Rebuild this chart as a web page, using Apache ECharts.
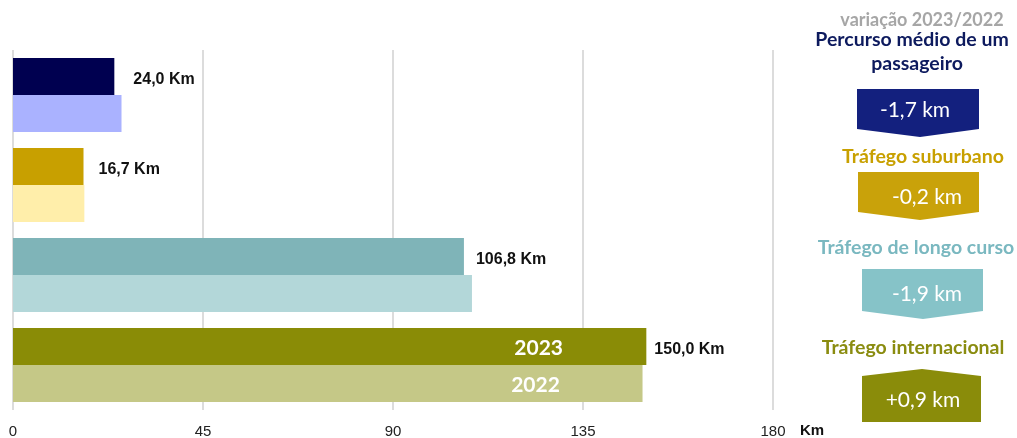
<!DOCTYPE html>
<html>
<head>
<meta charset="utf-8">
<script src="https://cdn.jsdelivr.net/npm/echarts@6/dist/echarts.min.js"></script>
<style>
html,body{margin:0;padding:0;background:#fff;}
#chart{width:1017px;height:438px;}
</style>
</head>
<body>
<div id="chart"></div>
<script>
const categories = ['Percurso médio de um passageiro', 'Tráfego suburbano', 'Tráfego de longo curso', 'Tráfego internacional'];
const values2023 = [24.0, 16.7, 106.8, 150.0];
const values2022 = [25.7, 16.9, 108.7, 149.1];
const colors2023 = ['#000050', '#c8a000', '#7fb4b8', '#8a8c06'];
const colors2022 = ['#aab2ff', '#ffeeaa', '#b3d7d9', '#c5c887'];
const xTicks = [0, 45, 90, 135, 180];
const years = ['2023', '2022'];
const panelTitle = 'variação 2023/2022';
const panelLabels = [['Percurso médio de um', 'passageiro'], ['Tráfego suburbano'], ['Tráfego de longo curso'], ['Tráfego internacional']];
const variations = ['-1,7 km', '-0,2 km', '-1,9 km', '+0,9 km'];
const titleColors = ['#0d1a5e', '#c8a000', '#7ab8c0', '#8a8c10'];
const boxColors = ['#13207e', '#c9a20a', '#86c3c8', '#8a8c0a'];
const labelDistances = [19, 15, 12, 8];

const fmt = v => v.toFixed(1).replace('.', ',') + ' Km';
const lastIdx = categories.length - 1;

const chart = echarts.init(document.getElementById('chart'), null, {renderer: 'canvas'});

const graphics = [];
graphics.push({type: 'text', x: 922, y: 20, style: {text: panelTitle, fill: '#a6a6a6', font: 'bold 18px Lato', align: 'center', verticalAlign: 'middle'}});
const titlePos = [[[912, 40], [917, 64]], [[923, 157]], [[916, 248]], [[913, 348]]];
panelLabels.forEach((lines, i) => {
  lines.forEach((t, j) => {
    graphics.push({type: 'text', x: titlePos[i][j][0], y: titlePos[i][j][1], style: {text: t, fill: titleColors[i], font: 'bold 19.5px Lato', align: 'center', verticalAlign: 'middle'}});
  });
});
const shapes = [
  [[857, 89], [979, 89], [979, 129], [920, 137], [857, 129]],
  [[858, 172], [979, 172], [979, 212], [920, 220], [858, 212]],
  [[862, 269], [983, 269], [983, 311], [923, 319], [862, 311]],
  [[862, 376], [922, 369], [981, 376], [981, 422], [862, 422]]
];
const varPos = [[915, 110], [927, 197], [927, 294], [923, 400]];
shapes.forEach((pts, i) => {
  graphics.push({type: 'polygon', shape: {points: pts}, style: {fill: boxColors[i]}});
  graphics.push({type: 'text', x: varPos[i][0], y: varPos[i][1], style: {text: variations[i], fill: '#ffffff', font: '21px Lato', align: 'center', verticalAlign: 'middle'}});
});

const option = {
  animation: false,
  backgroundColor: '#ffffff',
  grid: {left: 13, right: 244, top: 50, bottom: 28, containLabel: false, outerBoundsMode: 'none'},
  xAxis: {
    type: 'value', min: xTicks[0], max: xTicks[xTicks.length - 1], interval: 45,
    axisLine: {show: false}, axisTick: {show: false},
    axisLabel: {color: '#222', fontSize: 15, fontFamily: 'Liberation Sans, Arial', margin: 14},
    splitLine: {lineStyle: {color: '#dcdcdc', width: 2}},
    name: 'Km', nameLocation: 'end', nameGap: 27,
    nameTextStyle: {color: '#111', fontWeight: 'bold', fontSize: 15, fontFamily: 'Liberation Sans, Arial', lineHeight: 42, align: 'left', verticalAlign: 'top'}
  },
  yAxis: {
    type: 'category', data: categories, inverse: true,
    axisLine: {show: false}, axisTick: {show: false}, axisLabel: {show: false}, splitLine: {show: false}
  },
  graphic: graphics,
  series: [
    {
      name: years[0], type: 'bar', barGap: '0%', barCategoryGap: '18%',
      data: values2023.map((v, i) => ({value: v, itemStyle: {color: colors2023[i]}, label: {distance: labelDistances[i]}})),
      label: {show: true, position: 'right', formatter: p => fmt(p.value), color: '#111', fontWeight: 'bold', fontSize: 16, fontFamily: 'Liberation Sans, Arial', offset: [0, 3]},
      markPoint: {
        symbol: 'circle', symbolSize: 0,
        data: [{coord: [values2023[lastIdx] * 0.83, categories[lastIdx]], value: years[0]}],
        label: {show: true, position: 'inside', formatter: years[0], color: '#fff', fontWeight: 'bold', fontSize: 21, fontFamily: 'Lato', offset: [0, 2]}
      }
    },
    {
      name: years[1], type: 'bar', barGap: '0%', barCategoryGap: '18%',
      data: values2022.map((v, i) => ({
        value: v, itemStyle: {color: colors2022[i]},
        label: i === lastIdx ? {show: true, position: ['83%', '50%'], align: 'center', verticalAlign: 'middle', formatter: years[1], color: '#fff', fontWeight: 'bold', fontSize: 21, fontFamily: 'Lato', offset: [0, 2]} : {show: false}
      }))
    }
  ]
};
chart.setOption(option);
</script>
</body>
</html>
